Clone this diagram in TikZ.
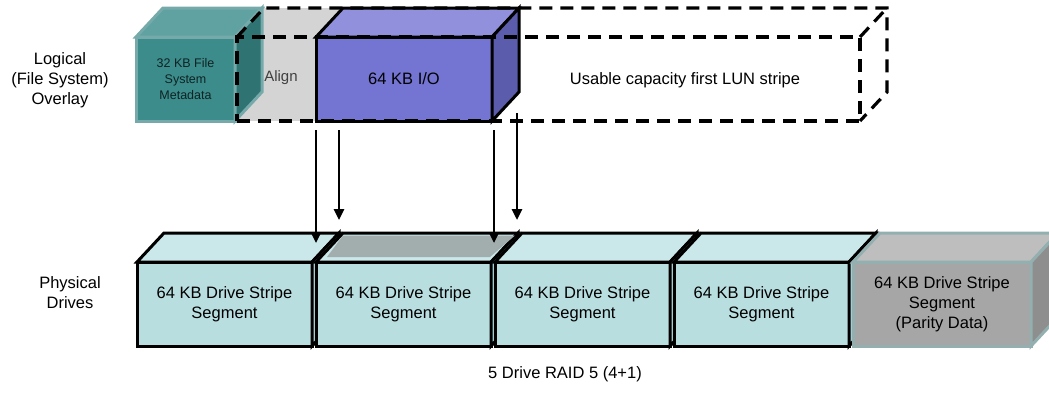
\documentclass[tikz,border=0pt]{standalone}
\usepackage{fontspec}
\setmainfont{Liberation Sans}
\usetikzlibrary{arrows.meta}
\definecolor{drivefront}{HTML}{B9DEE0}
\definecolor{drivetop}{HTML}{CAE7E9}
\definecolor{driveside}{HTML}{A3CDCF}
\definecolor{parityfront}{HTML}{A6A6A6}
\definecolor{paritytop}{HTML}{BEBEBE}
\definecolor{parityside}{HTML}{8E8E8E}
\definecolor{parityline}{HTML}{93AFAF}
\definecolor{metafront}{HTML}{3C8C8C}
\definecolor{metatop}{HTML}{60A2A2}
\definecolor{metaside}{HTML}{2F7373}
\definecolor{metaline}{HTML}{76AAAA}
\definecolor{iofront}{HTML}{7474D2}
\definecolor{iotop}{HTML}{9090DC}
\definecolor{ioside}{HTML}{5C5CAC}
\definecolor{gapgray}{HTML}{D4D4D4}
\definecolor{footprint}{HTML}{A2AEAE}

\begin{document}
\begin{tikzpicture}[
    x=1pt, y=-1pt, % pixel grid, y downwards
    every node/.style={font=\fontsize{16.5}{20}\selectfont, align=center, inner sep=0pt, outer sep=0pt},
    block/.style={anchor=north west, line width=3pt, minimum height=84pt},
    drive/.style={block, fill=drivefront, draw=black, minimum width=175pt},
    drive top/.style={fill=drivetop, draw=black, line width=3pt},
    drive side/.style={fill=driveside, draw=black, line width=3pt},
    parity/.style={block, fill=parityfront, draw=parityline, minimum width=178pt},
    parity top/.style={fill=paritytop, draw=parityline, line width=3pt},
    parity side/.style={fill=parityside, draw=parityline, line width=3pt},
    meta/.style={block, fill=metafront, draw=metaline, minimum width=99pt, text=black!75!metafront,
        font=\fontsize{12.5}{16}\selectfont},
    meta top/.style={fill=metatop, draw=metaline, line width=3pt},
    meta side/.style={fill=metaside, draw=metaline, line width=3pt},
    io/.style={block, fill=iofront, draw=black, minimum width=176pt},
    io top/.style={fill=iotop, draw=black, line width=3pt},
    io side/.style={fill=ioside, draw=black, line width=3pt},
    gap box/.style={block, fill=gapgray, minimum width=79pt},
    lun dash/.style={draw=black, line width=3.2pt, dash pattern=on 13pt off 8pt},
    flow/.style={-{Triangle[length=11pt,width=10pt]}, line width=2.6pt}
]

    % --- depth of the blocks ---
    \def\dx{27}
    \def\dy{29}

    % --- top and side face of a block node ---
    \def\drawFaces#1#2{
        \filldraw[#2 top] (#1.north west) -- ++(\dx,-\dy) -- ([shift={(\dx,-\dy)}]#1.north east) -- (#1.north east) -- cycle;
        \filldraw[#2 side] (#1.north east) -- ++(\dx,-\dy) -- ([shift={(\dx,-\dy)}]#1.south east) -- (#1.south east) -- cycle;
    }

    \useasboundingbox (0,0) rectangle (1049,392);
    \clip (0,0) rectangle (1049,392);

    % ==========================================
    % LOGICAL OVERLAY
    % ==========================================
    \node (logical) at (60,80) {Logical\\(File System)\\Overlay};

    % Align gap
    \node[gap box] (gap) at (237,37) {};
    \fill[gapgray] (gap.north west) -- ++(\dx,-\dy) -- ([shift={(\dx,-\dy)}]gap.north east) -- (gap.north east) -- cycle;
    \node[text=black!75, font=\fontsize{15}{18}\selectfont] (aligntext) at (281,78) {Align};

    % Metadata
    \node[meta] (meta) at (136,37) {32 KB File\\System\\Metadata};
    \drawFaces{meta}{meta}

    % 64 KB I/O
    \node[io] (io) at (316,37) {64 KB I/O};
    \drawFaces{io}{io}

    % First LUN stripe (dashed)
    \node[block, lun dash, minimum width=623pt] (lun) at (237,37) {};
    \draw[lun dash] (lun.north west) -- ++(\dx,-\dy) -- ([shift={(\dx,-\dy)}]lun.north east)
        -- ([shift={(\dx,-\dy)}]lun.south east) -- (lun.south east);
    \draw[lun dash] (lun.north east) -- ++(\dx,-\dy);
    \node (luntext) at (685,80) {Usable capacity first LUN stripe};

    % ==========================================
    % PHYSICAL DRIVES
    % ==========================================
    \node (physical) at (70,293) {Physical\\Drives};

    \foreach \i in {1,...,4} {
        \node[drive] (d\i) at ({137+179*(\i-1)},262) {64 KB Drive Stripe\\Segment};
        \drawFaces{d\i}{drive}
    }
    \node[parity] (p5) at (853,262) {64 KB Drive Stripe\\Segment\\(Parity Data)};
    \drawFaces{p5}{parity}

    % I/O footprint on drive 2
    \fill[footprint] (327,257) -- (490,257) -- (515,235.5) -- (343,235.5) -- cycle;

    % Arrows from the I/O edges
    \foreach \x/\ys/\ye [count=\i] in {316/130/243, 339/130/220, 494/130/243, 517/113/220} {
        \coordinate (s\i) at (\x,\ys);
        \coordinate (e\i) at (\x,\ye);
        \draw[flow] (s\i) -- (e\i);
    }

    \node (raid) at (565,374) {5 Drive RAID 5 (4+1)};

\end{tikzpicture}
\end{document}
